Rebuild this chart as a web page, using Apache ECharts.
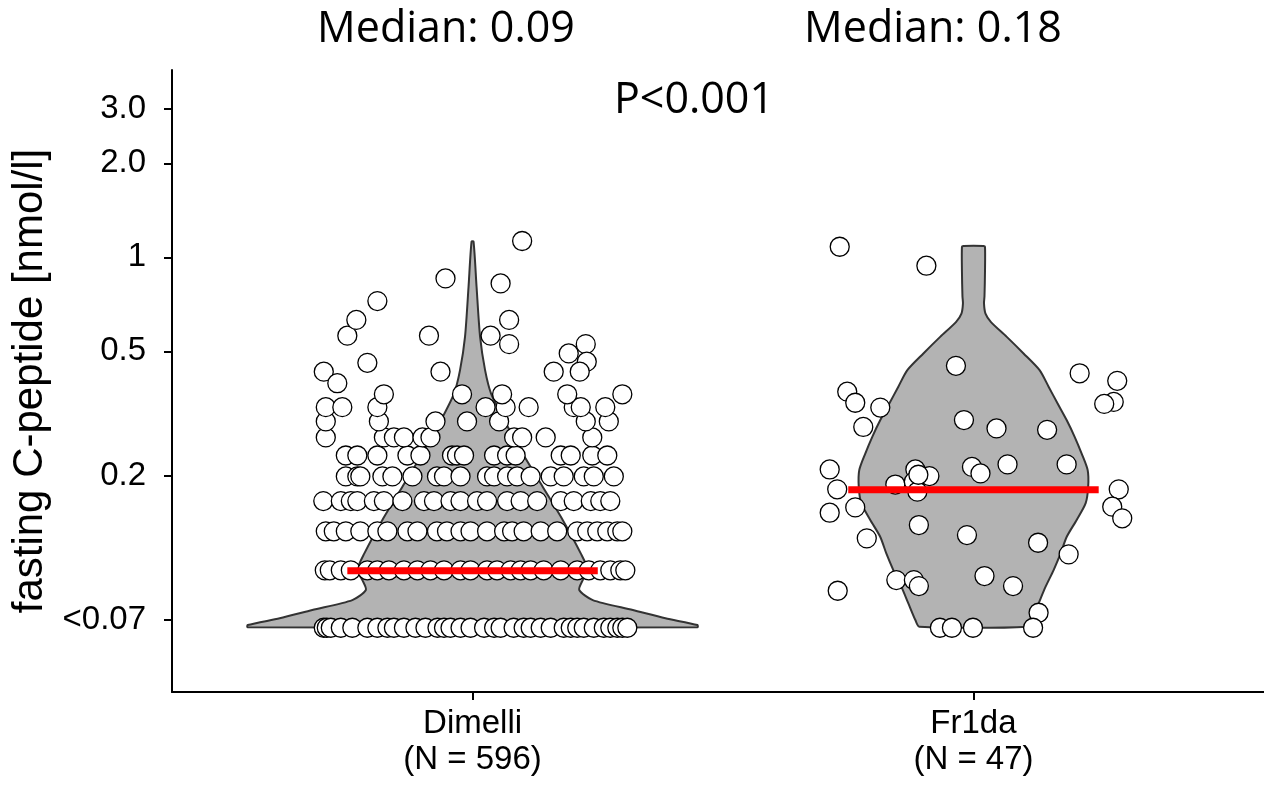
<!DOCTYPE html>
<html>
<head>
<meta charset="utf-8">
<script src="https://cdn.jsdelivr.net/npm/echarts@6/dist/echarts.min.js"></script>
<style>
  html, body { margin: 0; padding: 0; background: #fff; }
  #chart { width: 1264px; height: 789px; }
</style>
</head>
<body>
<div id="chart"></div>
<script>
// groups on the x axis
const categories = ['Dimelli', 'Fr1da']
const nLabels = ['(N = 596)', '(N = 47)']
const medians = [0.099, 0.18]
const medianTexts = ['Median: 0.09', 'Median: 0.18']
const pText = 'P<0.001'

// y ticks (log scale)
const yTicks = [0.069, 0.2, 0.5, 1, 2, 3]
const yTickLabels = ['<0.07', '0.2', '0.5', '1', '2.0', '3.0']

// Dimelli: values sit on discrete levels (0.1 ng/ml steps), <0.07 drawn at 0.065
const dimelliLevels = [0.065, 0.0993, 0.1324, 0.1655, 0.1986, 0.2317, 0.2648, 0.2979, 0.331, 0.364]
const dimelliRowX = [
  [0.703, 0.709, 0.717, 0.737, 0.760, 0.790, 0.810, 0.830, 0.843, 0.863, 0.886, 0.906, 0.930, 0.943, 0.956, 0.976, 0.996, 1.023, 1.043, 1.056, 1.082, 1.102, 1.116, 1.136, 1.156, 1.182, 1.196, 1.209, 1.222, 1.242, 1.262, 1.275, 1.289, 1.299, 1.309],
  [0.705, 0.715, 0.737, 0.757, 0.790, 0.810, 0.833, 0.863, 0.890, 0.916, 0.943, 0.976, 0.996, 1.029, 1.049, 1.076, 1.096, 1.116, 1.142, 1.176, 1.209, 1.232, 1.255, 1.275, 1.295, 1.305],
  [0.707, 0.723, 0.747, 0.776, 0.810, 0.830, 0.870, 0.890, 0.929, 0.949, 0.976, 0.996, 1.029, 1.063, 1.079, 1.102, 1.136, 1.169, 1.209, 1.229, 1.249, 1.269, 1.289, 1.299],
  [0.702, 0.737, 0.757, 0.770, 0.803, 0.823, 0.860, 0.903, 0.923, 0.956, 0.976, 1.009, 1.029, 1.069, 1.096, 1.129, 1.176, 1.202, 1.236, 1.255, 1.275],
  [0.747, 0.770, 0.776, 0.820, 0.840, 0.880, 0.929, 0.943, 0.976, 1.029, 1.043, 1.069, 1.089, 1.116, 1.156, 1.182, 1.222, 1.242, 1.282],
  [0.747, 0.770, 0.810, 0.870, 0.896, 0.959, 0.969, 0.983, 1.043, 1.069, 1.086, 1.176, 1.196, 1.239, 1.269],
  [0.707, 0.823, 0.843, 0.863, 0.900, 0.916, 1.083, 1.099, 1.146, 1.239],
  [0.707, 0.813, 0.926, 0.989, 1.053, 1.226, 1.272],
  [0.707, 0.740, 0.810, 1.026, 1.066, 1.112, 1.202, 1.216, 1.265],
  [0.823, 0.979, 1.059, 1.189, 1.299]
]
// Dimelli points above the dense rows: [x, value]
const dimelliUpper = [
  [0.703, 0.430], [0.730, 0.395], [0.790, 0.459], [0.936, 0.430], [0.750, 0.561],
  [0.768, 0.630], [0.810, 0.724], [0.946, 0.856], [1.056, 0.825], [1.099, 1.128],
  [0.913, 0.561], [1.036, 0.561], [1.073, 0.630], [1.073, 0.527], [1.162, 0.430],
  [1.192, 0.492], [1.226, 0.527], [1.228, 0.463], [1.214, 0.430]
]

// Fr1da points: [x, value]
const fr1daPoints = [
  [1.733, 1.081], [1.906, 0.940], [1.965, 0.449], [2.212, 0.425], [2.287, 0.402],
  [1.748, 0.371], [1.764, 0.342], [1.814, 0.330], [2.280, 0.344], [2.261, 0.339],
  [1.780, 0.286], [1.981, 0.301], [2.046, 0.283], [2.147, 0.280], [1.884, 0.209],
  [1.912, 0.199], [1.844, 0.187], [1.881, 0.191], [1.997, 0.213], [2.014, 0.203],
  [2.068, 0.217], [2.186, 0.217], [1.713, 0.209], [1.728, 0.1805], [1.888, 0.1774],
  [2.290, 0.1805], [2.277, 0.1588], [2.297, 0.1457], [1.713, 0.1519], [1.764, 0.158],
  [1.891, 0.1387], [1.987, 0.1288], [1.787, 0.1257], [2.129, 0.1217], [2.190, 0.1117],
  [1.846, 0.0924], [1.881, 0.0924], [1.891, 0.0884], [2.022, 0.0952], [2.079, 0.0884],
  [1.729, 0.0854], [2.130, 0.0726], [1.933, 0.065], [1.957, 0.065], [1.999, 0.065],
  [2.119, 0.065], [1.890, 0.201]
]

// violin outlines: value and half width (x units)
const dimelliViolinV = [1.122, 0.805, 0.557, 0.435, 0.366, 0.301, 0.235, 0.184, 0.144, 0.1125, 0.0995, 0.0924, 0.0859, 0.0797, 0.0741, 0.0697, 0.0663, 0.0652]
const dimelliViolinW = [0.002, 0.008, 0.015, 0.025, 0.037, 0.063, 0.100, 0.140, 0.180, 0.216, 0.230, 0.220, 0.213, 0.240, 0.320, 0.385, 0.449, 0.449]
const fr1daViolinV = [1.087, 1.08, 0.9, 0.75, 0.712, 0.660, 0.620, 0.557, 0.492, 0.435, 0.385, 0.340, 0.301, 0.266, 0.235, 0.208, 0.184, 0.163, 0.144, 0.127, 0.1125, 0.0995, 0.088, 0.0778, 0.0688, 0.0655]
const fr1daViolinW = [0.020, 0.023, 0.023, 0.022, 0.021, 0.024, 0.035, 0.066, 0.100, 0.132, 0.150, 0.168, 0.186, 0.202, 0.216, 0.228, 0.229, 0.224, 0.206, 0.186, 0.174, 0.160, 0.144, 0.130, 0.116, 0.108]

const lg = Math.log10
const AXIS_FONT = '"Liberation Sans", Arial, sans-serif'
const NOTE_FONT = '"Open Sans", sans-serif'

const violins = [
  { v: dimelliViolinV, w: dimelliViolinW },
  { v: fr1daViolinV, w: fr1daViolinW }
]

const scatterData = []
dimelliLevels.forEach((lv, i) => {
  dimelliRowX[i].forEach(x => scatterData.push([x, lg(lv)]))
})
dimelliUpper.forEach(p => scatterData.push([p[0], lg(p[1])]))
fr1daPoints.forEach(p => scatterData.push([p[0], lg(p[1])]))

const tickVals = yTicks.map(lg)

const medianSeries = medians.map((m, i) => ({
  type: 'line',
  z: 5,
  symbol: 'none',
  silent: true,
  lineStyle: { color: '#ff0000', width: 7, cap: 'butt' },
  data: [[i + 1 - 0.25, lg(m)], [i + 1 + 0.25, lg(m)]]
}))

const chart = echarts.init(document.getElementById('chart'))
chart.setOption({
  animation: false,
  backgroundColor: '#fff',
  grid: { left: 172, right: 0, top: 70, bottom: 97 },
  xAxis: {
    type: 'value',
    min: 0.4,
    max: 2.58,
    axisLine: { show: true, onZero: false, lineStyle: { color: '#000', width: 2 } },
    axisTick: { show: true, length: 8, customValues: [1, 2], lineStyle: { color: '#000', width: 2 } },
    axisLabel: {
      customValues: [1, 2],
      formatter: v => categories[Math.round(v) - 1] + '\n' + nLabels[Math.round(v) - 1],
      color: '#000',
      fontFamily: AXIS_FONT,
      fontSize: 33,
      lineHeight: 36,
      margin: 14
    },
    splitLine: { show: false }
  },
  yAxis: {
    type: 'value',
    min: -1.393,
    max: 0.6003,
    name: 'fasting C-peptide [nmol/l]',
    nameLocation: 'middle',
    nameGap: 121,
    nameTextStyle: { color: '#000', fontFamily: AXIS_FONT, fontSize: 42 },
    axisLine: { show: true, onZero: false, lineStyle: { color: '#000', width: 2 } },
    axisTick: { show: true, length: 8, customValues: tickVals, lineStyle: { color: '#000', width: 2 } },
    axisLabel: {
      customValues: tickVals,
      formatter: v => {
        const k = tickVals.findIndex(t => Math.abs(t - v) < 1e-6)
        return k >= 0 ? yTickLabels[k] : ''
      },
      color: '#000',
      fontFamily: AXIS_FONT,
      fontSize: 33,
      margin: 26
    },
    splitLine: { show: false }
  },
  graphic: [
    { type: 'text', x: 446, y: 30, style: { text: medianTexts[0], font: '43px ' + NOTE_FONT, fill: '#000', align: 'center', verticalAlign: 'middle' } },
    { type: 'text', x: 933, y: 30, style: { text: medianTexts[1], font: '43px ' + NOTE_FONT, fill: '#000', align: 'center', verticalAlign: 'middle' } },
    { type: 'text', x: 694, y: 101, z: 10, style: { text: pText, font: '43px ' + NOTE_FONT, fill: '#000', align: 'center', verticalAlign: 'middle' } }
  ],
  series: [
    {
      type: 'custom',
      z: 1,
      silent: true,
      data: [[1, 0], [2, 0]],
      renderItem: (params, api) => {
        const vi = violins[params.dataIndex]
        const c = params.dataIndex + 1
        const left = vi.v.map((v, k) => api.coord([c - vi.w[k], lg(v)]))
        const right = vi.v.map((v, k) => api.coord([c + vi.w[k], lg(v)])).reverse()
        return {
          type: 'polygon',
          shape: { points: left.concat(right), smooth: 0.25 },
          style: { fill: '#b3b3b3', stroke: '#333333', lineWidth: 2 }
        }
      }
    },
    {
      type: 'scatter',
      z: 3,
      silent: true,
      symbol: 'circle',
      symbolSize: 19,
      itemStyle: { color: '#ffffff', borderColor: '#000000', borderWidth: 1.3, opacity: 1 },
      data: scatterData
    },
    ...medianSeries
  ]
})
</script>
</body>
</html>
